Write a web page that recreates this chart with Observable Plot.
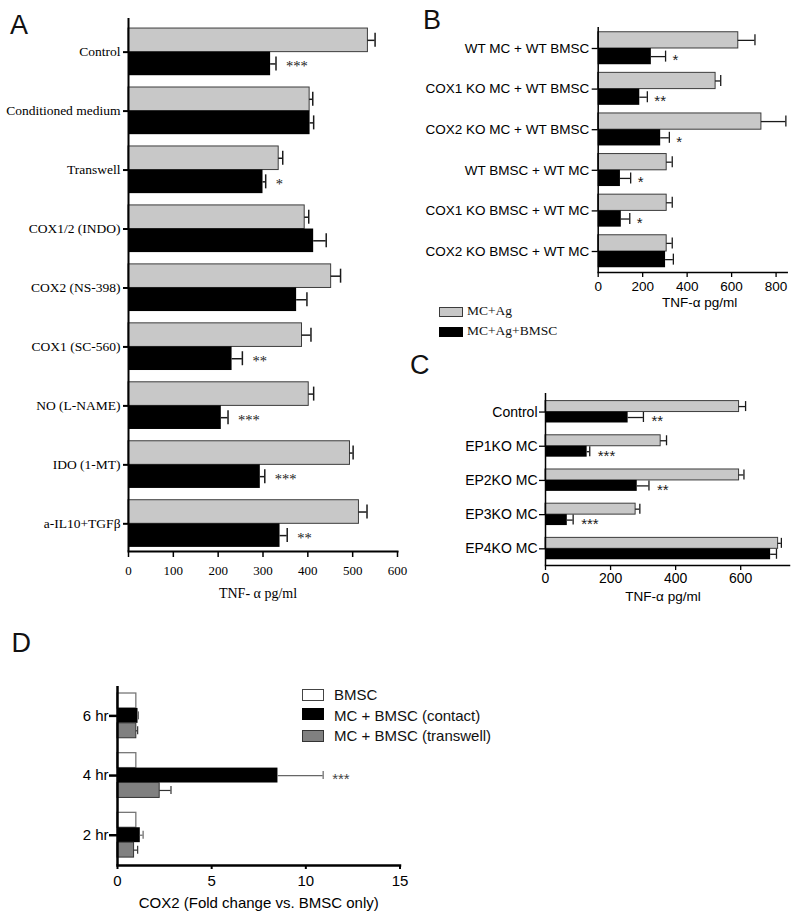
<!DOCTYPE html>
<html>
<head>
<meta charset="utf-8">
<script src="https://cdn.jsdelivr.net/npm/d3@7"></script>
<script src="https://cdn.jsdelivr.net/npm/@observablehq/plot@0.6"></script>
<style>
  body { margin: 0; background: #fff; }
  #root { position: relative; width: 800px; height: 918px; overflow: hidden; background: #fff; }
  .letter { position: absolute; font-family: "Liberation Sans", Arial, sans-serif; font-size: 27px; line-height: 27px; color: #111; }
  .sw { position: absolute; box-sizing: border-box; }
  .lab { position: absolute; white-space: nowrap; color: #111; }
</style>
</head>
<body>
<div id="root"></div>
<script>
// ---------- Panel A ----------
const aCats = ["Control", "Conditioned medium", "Transwell", "COX1/2 (INDO)", "COX2 (NS-398)",
  "COX1 (SC-560)", "NO (L-NAME)", "IDO (1-MT)", "a-IL10+TGFβ"];
const aMcAg = [534, 404, 335, 393, 452, 387, 402, 494, 514];
const aMcAgErr = [16, 7, 9, 9, 21, 20, 11, 7, 18];
const aMcAgBmsc = [317, 405, 300, 413, 375, 231, 207, 294, 338];
const aMcAgBmscErr = [12, 8, 6, 28, 23, 23, 15, 10, 16];
const aSig = ["***", "", "*", "", "", "**", "***", "***", "**"];
const aTicks = [0, 100, 200, 300, 400, 500, 600];
const aTitle = "TNF- α pg/ml";

// ---------- Panel B ----------
const bCats = ["WT MC + WT BMSC", "COX1 KO MC + WT BMSC", "COX2 KO MC + WT BMSC",
  "WT BMSC + WT MC", "COX1 KO BMSC + WT MC", "COX2 KO BMSC + WT MC"];
const bMcAg = [630, 528, 734, 308, 308, 308];
const bMcAgErr = [75, 23, 110, 25, 25, 25];
const bMcAgBmsc = [239, 187, 281, 100, 104, 303];
const bMcAgBmscErr = [64, 34, 39, 46, 38, 35];
const bSig = ["*", "**", "*", "*", "*", ""];
const bTicks = [0, 200, 400, 600, 800];
const bTitle = "TNF-α pg/ml";
const bLegend = ["MC+Ag", "MC+Ag+BMSC"];

// ---------- Panel C ----------
const cCats = ["Control", "EP1KO MC", "EP2KO MC", "EP3KO MC", "EP4KO MC"];
const cMcAg = [595, 354, 595, 277, 715];
const cMcAgErr = [20, 18, 15, 13, 10];
const cMcAgBmsc = [254, 128, 282, 67, 692];
const cMcAgBmscErr = [47, 8, 36, 18, 18];
const cSig = ["**", "***", "**", "***", ""];
const cTicks = [0, 200, 400, 600];
const cTitle = "TNF-α pg/ml";

// ---------- Panel D ----------
const dCats = ["6 hr", "4 hr", "2 hr"];
const dBmsc = [1.0, 1.0, 1.0];
const dBmscErr = [0, 0, 0];
const dContact = [1.09, 8.52, 1.21];
const dContactErr = [0.02, 2.40, 0.15];
const dTranswell = [1.0, 2.24, 0.88];
const dTranswellErr = [0.07, 0.60, 0.19];
const dSig = ["", "***", ""];
const dTicks = [0, 5, 10, 15];
const dTitle = "COX2 (Fold change vs. BMSC only)";
const dLegend = ["BMSC", "MC + BMSC (contact)", "MC + BMSC (transwell)"];

const GRAY = "#c8c8c8", GRAY_EDGE = "#3c3c3c", BLACK = "#000000";
const D_GRAY = "#808080";

function panel(cfg) {
  const n = cfg.cats.length, k = cfg.series.length;
  const step = (cfg.height - cfg.mt - cfg.mb) / (n - cfg.pi + 2 * cfg.po);
  const bw = step * (1 - cfg.pi);
  const sub = bw / k;
  const bars = [], whiskers = [], caps = [], stars = [];
  cfg.series.forEach((s, j) => {
    const rows = cfg.cats.map((c, i) => ({cat: c, v: s.values[i], e: s.errors[i], sig: s.sig ? s.sig[i] : ""}));
    const above = j * sub, below = (k - 1 - j) * sub;
    const off = above + sub / 2 - bw / 2;
    bars.push(Plot.barX(rows, {y: "cat", x1: 0, x2: "v", fill: s.fill, stroke: s.stroke,
      strokeWidth: s.strokeWidth, insetTop: above, insetBottom: below}));
    const er = rows.filter(d => d.e > 0);
    whiskers.push(Plot.ruleY(er, {y: "cat", x1: "v", x2: d => d.v + d.e, dy: off,
      stroke: s.errColor || cfg.errColor, strokeWidth: cfg.errWidth}));
    caps.push(Plot.tickX(er, {y: "cat", x: d => d.v + d.e,
      insetTop: above + sub / 2 - cfg.cap, insetBottom: below + sub / 2 - cfg.cap,
      stroke: s.errColor || cfg.errColor, strokeWidth: cfg.errWidth}));
    const sg = rows.filter(d => d.sig);
    stars.push(Plot.text(sg, {y: "cat", x: d => d.v + d.e, text: "sig", textAnchor: "start",
      lineAnchor: "middle", dx: cfg.starDx, dy: off + cfg.starDy, fontSize: cfg.starSize,
      fontFamily: cfg.starFont, fill: cfg.starColor}));
  });
  const svg = Plot.plot({
    width: cfg.width,
    height: cfg.height,
    marginTop: cfg.mt,
    marginBottom: cfg.mb,
    marginLeft: cfg.ml,
    marginRight: cfg.mr,
    x: {domain: cfg.xDomain, label: null},
    y: {domain: cfg.cats, paddingInner: cfg.pi, paddingOuter: cfg.po, align: cfg.align, round: false, label: null},
    style: {fontFamily: cfg.font, fontSize: cfg.yFont + "px", background: "transparent", overflow: "visible", color: "#000"},
    marks: [
      ...bars, ...whiskers, ...caps, ...stars,
      Plot.ruleX([0], {stroke: "#000", strokeWidth: cfg.axisWidth}),
      Plot.frame({anchor: "bottom", stroke: "#000", strokeWidth: cfg.axisWidth}),
      Plot.axisY({tickSize: cfg.yTickSize, tickPadding: cfg.yTickPadding, fontSize: cfg.yFont,
        strokeWidth: cfg.yTickWidth, label: null, tickFormat: d => d}),
      Plot.axisX({ticks: cfg.ticks, tickSize: cfg.xTickSize, tickPadding: cfg.xTickPadding,
        fontSize: cfg.xFont, strokeWidth: cfg.xTickWidth, label: null, tickFormat: d => String(d)}),
      Plot.text([cfg.title], {frameAnchor: "bottom", lineAnchor: "middle", text: d => d,
        dx: cfg.titleDx, dy: cfg.titleDy, fontSize: cfg.titleSize})
    ]
  });
  svg.style.position = "absolute";
  svg.style.left = cfg.left + "px";
  svg.style.top = cfg.top + "px";
  return svg;
}

const root = document.getElementById("root");

// Panel A
root.appendChild(panel({
  left: 0, top: 0, width: 410, height: 615, mt: 18, mb: 64, ml: 128, mr: 13,
  cats: aCats, xDomain: [0, 600], ticks: aTicks, pi: 0.2, po: 0.12, align: 0.71,
  series: [
    {values: aMcAg, errors: aMcAgErr, fill: GRAY, stroke: GRAY_EDGE, strokeWidth: 1},
    {values: aMcAgBmsc, errors: aMcAgBmscErr, fill: BLACK, sig: aSig}
  ],
  font: "'Liberation Serif', 'Times New Roman', serif",
  yFont: 13.5, xFont: 13, titleSize: 14, yTickSize: 5, yTickPadding: 3, yTickWidth: 2,
  xTickSize: 6, xTickPadding: 8, xTickWidth: 1.5, axisWidth: 2,
  errColor: "#1a1a1a", errWidth: 1.5, cap: 7,
  starDx: 10, starDy: 2.5, starSize: 14.5, starFont: "'Liberation Serif', serif", starColor: "#1a1a1a",
  title: aTitle, titleDx: -5, titleDy: 42.5
}));

// Panel B
root.appendChild(panel({
  left: 400, top: 0, width: 400, height: 320, mt: 27, mb: 48, ml: 197.7, mr: 13.3,
  cats: bCats, xDomain: [0, 850], ticks: bTicks, pi: 0.2, po: 0.117, align: 0.5,
  series: [
    {values: bMcAg, errors: bMcAgErr, fill: GRAY, stroke: GRAY_EDGE, strokeWidth: 1},
    {values: bMcAgBmsc, errors: bMcAgBmscErr, fill: BLACK, sig: bSig}
  ],
  font: "'Liberation Sans', Arial, sans-serif",
  yFont: 13.5, xFont: 13.5, titleSize: 13.5, yTickSize: 6, yTickPadding: 3, yTickWidth: 1.3,
  xTickSize: 5, xTickPadding: 4, xTickWidth: 1.3, axisWidth: 1.5,
  errColor: "#1a1a1a", errWidth: 1.3, cap: 5.5,
  starDx: 7, starDy: 4, starSize: 15, starFont: "'Liberation Sans', sans-serif", starColor: "#1a1a1a",
  title: bTitle, titleDx: 7, titleDy: 29.7
}));

// Panel C
root.appendChild(panel({
  left: 400, top: 340, width: 400, height: 280, mt: 53, mb: 55, ml: 145, mr: 11,
  cats: cCats, xDomain: [0, 750], ticks: cTicks, pi: 0.36, po: 0.195, align: 0.57,
  series: [
    {values: cMcAg, errors: cMcAgErr, fill: GRAY, stroke: GRAY_EDGE, strokeWidth: 1},
    {values: cMcAgBmsc, errors: cMcAgBmscErr, fill: BLACK, sig: cSig}
  ],
  font: "'Liberation Sans', Arial, sans-serif",
  yFont: 14, xFont: 14, titleSize: 13.5, yTickSize: 6, yTickPadding: 2, yTickWidth: 1.3,
  xTickSize: 5, xTickPadding: 3, xTickWidth: 1.3, axisWidth: 1.5,
  errColor: "#1a1a1a", errWidth: 1.3, cap: 5,
  starDx: 8, starDy: 4, starSize: 15, starFont: "'Liberation Sans', sans-serif", starColor: "#1a1a1a",
  title: cTitle, titleDx: -4.5, titleDy: 30.7
}));

// Panel D
root.appendChild(panel({
  left: 0, top: 640, width: 560, height: 278, mt: 46, mb: 53, ml: 117, mr: 160.5,
  cats: dCats, xDomain: [0, 15], ticks: dTicks, pi: 0.25, po: 0.125, align: 0.47,
  series: [
    {values: dBmsc, errors: dBmscErr, fill: "#ffffff", stroke: "#777", strokeWidth: 1.3},
    {values: dContact, errors: dContactErr, fill: BLACK, sig: dSig, errColor: "#666"},
    {values: dTranswell, errors: dTranswellErr, fill: D_GRAY, stroke: "#333", strokeWidth: 1, errColor: "#333"}
  ],
  font: "'Liberation Sans', Arial, sans-serif",
  yFont: 15, xFont: 15, titleSize: 15, yTickSize: 8, yTickPadding: 1, yTickWidth: 2.5,
  xTickSize: 4, xTickPadding: 6, xTickWidth: 2, axisWidth: 2.5,
  errColor: "#444", errWidth: 1.2, cap: 4,
  starDx: 9, starDy: 4, starSize: 15, starFont: "'Liberation Sans', sans-serif", starColor: "#444",
  title: dTitle, titleDx: 0, titleDy: 37.2
}));

// Panel letters
[["A", 10, 11.5], ["B", 423, 6.5], ["C", 410, 352], ["D", 11.5, 630]].forEach(([t, x, y]) => {
  const el = document.createElement("div");
  el.className = "letter";
  el.textContent = t;
  el.style.left = x + "px";
  el.style.top = y + "px";
  root.appendChild(el);
});

// Legends
function addSwatch(x, y, w, h, fill, border) {
  const el = document.createElement("div");
  el.className = "sw";
  Object.assign(el.style, {left: x + "px", top: y + "px", width: w + "px", height: h + "px",
    background: fill, border: "1px solid " + border});
  root.appendChild(el);
}
function addLabel(text, x, top, font, size) {
  const el = document.createElement("div");
  el.className = "lab";
  el.textContent = text;
  Object.assign(el.style, {left: x + "px", top: top + "px", fontFamily: font, fontSize: size + "px", lineHeight: size + "px"});
  root.appendChild(el);
}
const bLegFill = [[GRAY, GRAY_EDGE], [BLACK, BLACK]];
const bLegTops = [307, 327];
bLegend.forEach((t, i) => {
  addSwatch(439, bLegTops[i], 24, 10, bLegFill[i][0], bLegFill[i][1]);
  addLabel(t, 467, bLegTops[i] + 8 - 11.3, "'Liberation Serif', serif", 13.5);
});
const dLegFill = [["#ffffff", "#444"], [BLACK, BLACK], [D_GRAY, "#333"]];
const dLegTops = [689, 708, 729.5];
const dLegBase = [700, 720.5, 741];
dLegend.forEach((t, i) => {
  addSwatch(302, dLegTops[i], 22, 12, dLegFill[i][0], dLegFill[i][1]);
  addLabel(t, 334, dLegBase[i] - 12.7, "'Liberation Sans', Arial, sans-serif", 15);
});
</script>
</body>
</html>
